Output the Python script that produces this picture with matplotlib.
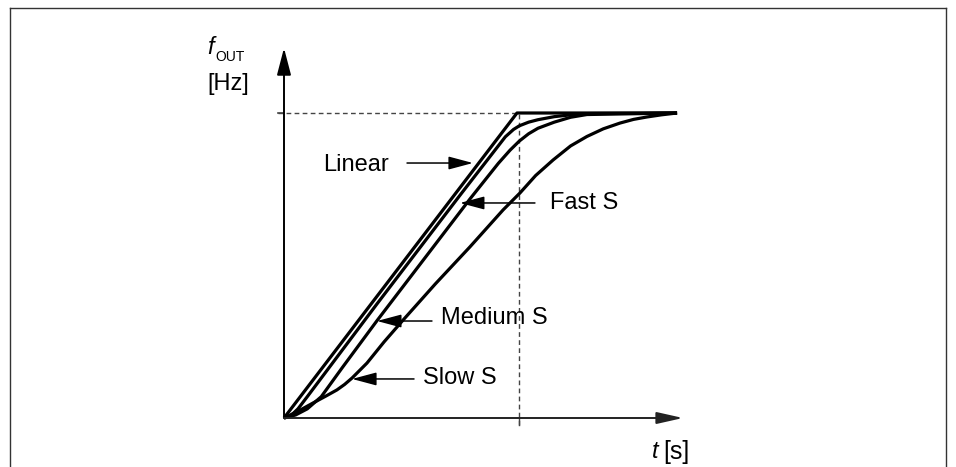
import matplotlib
matplotlib.use("Agg")
import matplotlib.pyplot as plt
from matplotlib.lines import Line2D

plt.rcParams['font.family'] = ['Liberation Sans', 'DejaVu Sans']

# ---- data (time normalised to linear ramp time, frequency normalised to f_max) ----
linear_t = [0.0, 1.0, 1.687]
linear_f = [0.0, 1.0, 1.0]

fast_t = [0.0, 0.03, 0.06, 0.10, 0.40, 0.76, 0.95, 0.985, 1.01, 1.05, 1.09, 1.16, 1.23, 1.30, 1.687]
fast_f = [0.0, 0.008, 0.03, 0.07, 0.375, 0.735, 0.922, 0.946, 0.958, 0.970, 0.978, 0.988, 0.994, 0.998, 1.0]

medium_t = [0.0, 0.05, 0.10, 0.16, 0.25, 0.40, 0.60, 0.80, 0.92, 0.97, 1.01, 1.05, 1.09, 1.16, 1.23, 1.30, 1.687]
medium_f = [0.0, 0.01, 0.03, 0.07, 0.165, 0.32, 0.52, 0.72, 0.835, 0.878, 0.908, 0.932, 0.950, 0.970, 0.986, 0.995, 1.0]

slow_t = [0.0, 0.06, 0.124, 0.18, 0.227, 0.26, 0.292, 0.356, 0.43, 0.511, 0.65, 0.798, 0.94, 1.013,
          1.08, 1.155, 1.23, 1.30, 1.37, 1.442, 1.50, 1.558, 1.62, 1.687]
slow_f = [0.0, 0.022, 0.049, 0.072, 0.092, 0.110, 0.131, 0.180, 0.250, 0.321, 0.44, 0.561, 0.682, 0.738,
          0.795, 0.846, 0.892, 0.923, 0.948, 0.967, 0.979, 0.987, 0.994, 1.0]

curve_labels = ["Linear", "Fast S", "Medium S", "Slow S"]
t_mark = 1.01      # dashed marker time
f_max = 1.0

# ---- figure ----
W, H = 956, 467
fig = plt.figure(figsize=(W / 100, H / 100), dpi=100)
ax = fig.add_axes([0, 0, 1, 1])
ax.set_axis_off()

x0, y0 = 284, 418        # origin pixel
sx, sy = 233.0, 305.0    # pixels per unit
ax.set_xlim(-x0 / sx, (W - x0) / sx)
ax.set_ylim((y0 - H) / sy, y0 / sy)

lw_curve = 2.3
for t, f in [(linear_t, linear_f), (fast_t, fast_f), (medium_t, medium_f), (slow_t, slow_f)]:
    ax.plot(t, f, color='black', lw=lw_curve, solid_joinstyle='round', solid_capstyle='butt', zorder=3)

# dashed reference lines
ax.plot([-0.026, t_mark], [f_max, f_max], color='#444444', lw=1.0, linestyle=(0, (3.4, 2.4)), zorder=2)
ax.plot([t_mark, t_mark], [-0.023, f_max], color='#444444', lw=1.0, linestyle=(0, (3.4, 2.4)), zorder=2)
ax.plot([t_mark, t_mark], [-0.023, 0.0], color='#444444', lw=1.0, zorder=2)
ax.plot([-0.026, 0.0], [f_max, f_max], color='#444444', lw=1.2, zorder=2)

# axes arrows
ax.annotate("", xy=(0, (y0 - 48) / sy), xytext=(0, 0),
            arrowprops=dict(arrowstyle='-|>,head_length=1.65,head_width=0.43',
                            mutation_scale=10, lw=1.4, color='black',
                            shrinkA=0, shrinkB=0), zorder=4)
ax.annotate("", xy=((683 - x0) / sx, 0), xytext=(0, 0),
            arrowprops=dict(arrowstyle='-|>,head_length=1.6,head_width=0.36',
                            mutation_scale=10, lw=1.4, color='#222222',
                            shrinkA=0, shrinkB=0), zorder=4)

# labels with pointer arrows
arrow_style = dict(arrowstyle='-|>,head_length=1.5,head_width=0.4', mutation_scale=10,
                   lw=1.1, color='black', shrinkA=0, shrinkB=0)
fs = 17
# Linear
ax.text(0.167, 0.830, curve_labels[0], fontsize=fs, ha='left', va='center')
ax.annotate("", xy=(0.811, 0.836), xytext=(0.528, 0.836), arrowprops=arrow_style)
# Fast S
ax.text(1.142, 0.705, curve_labels[1], fontsize=fs, ha='left', va='center')
ax.annotate("", xy=(0.755, 0.705), xytext=(1.077, 0.705), arrowprops=arrow_style)
# Medium S
ax.text(0.674, 0.328, curve_labels[2], fontsize=fs, ha='left', va='center')
ax.annotate("", xy=(0.399, 0.318), xytext=(0.635, 0.318), arrowprops=arrow_style)
# Slow S
ax.text(0.597, 0.131, curve_labels[3], fontsize=fs, ha='left', va='center')
ax.annotate("", xy=(0.292, 0.128), xytext=(0.558, 0.128), arrowprops=arrow_style)

# axis titles
fig.text(207 / W, 1 - 47 / H, "f", fontsize=fs, style='italic', ha='left', va='center')
fig.text(215 / W, 1 - 57 / H, "OUT", fontsize=10, ha='left', va='center')
fig.text(207 / W, 1 - 84 / H, "[Hz]", fontsize=fs, ha='left', va='center')
fig.text(652 / W, 1 - 452 / H, "t", fontsize=fs, style='italic', ha='left', va='center')
fig.text(663 / W, 1 - 452 / H, "[s]", fontsize=18, ha='left', va='center')

# frame (top, left, right; open at bottom)
fc = '#333333'
fig.add_artist(Line2D([10 / W, 10 / W], [0, 1 - 8 / H], color=fc, lw=1.0, transform=fig.transFigure))
fig.add_artist(Line2D([10 / W, 946 / W], [1 - 8 / H, 1 - 8 / H], color=fc, lw=1.0, transform=fig.transFigure))
fig.add_artist(Line2D([946 / W, 946 / W], [0, 1 - 8 / H], color=fc, lw=1.0, transform=fig.transFigure))

fig.savefig("out.png", dpi=100)
